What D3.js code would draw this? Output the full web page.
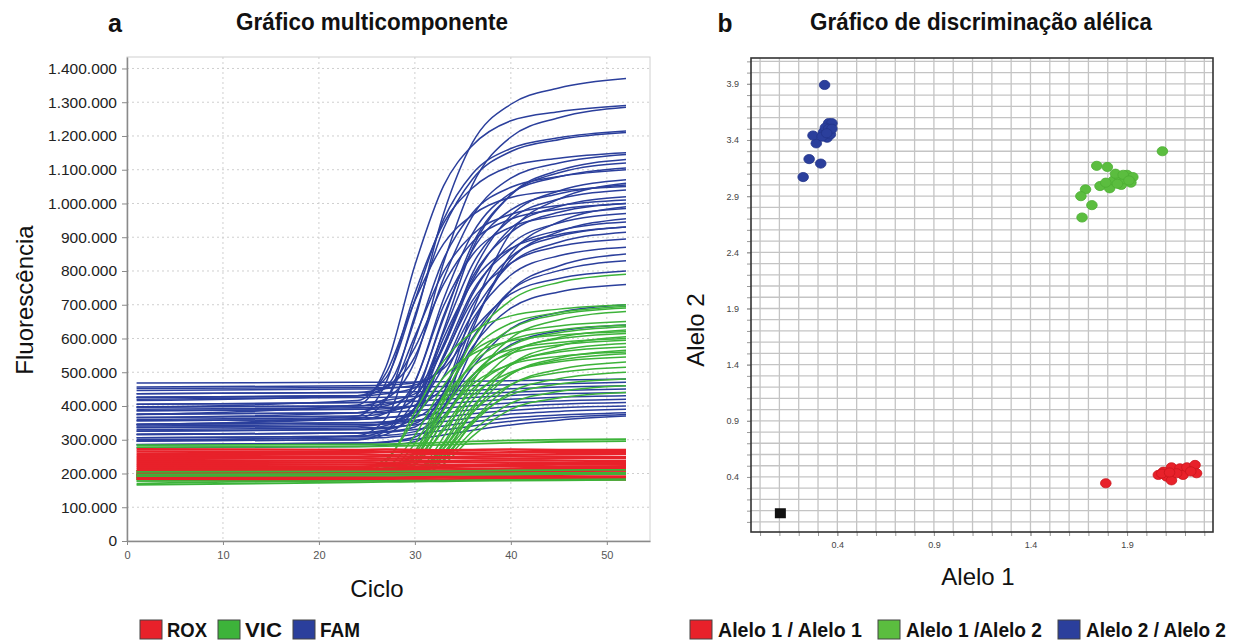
<!DOCTYPE html>
<html><head><meta charset="utf-8">
<script src="https://cdn.jsdelivr.net/npm/d3@7"></script>
<style>body{margin:0;background:#fff}</style>
</head><body>
<svg id="c" width="1234" height="643"></svg>
<script>
// ---------- Panel a data (fluorescence in thousands) ----------
const knotCycles = [1, 24, 27, 30, 33, 36, 40, 45, 52];

const famCurves = [
[425,430,458,658,971,1180,1294,1342,1370],
[375,403,517,817,1053,1172,1245,1272,1290],
[398,400,422,533,825,1055,1197,1254,1285],
[345,363,419,668,926,1072,1154,1189,1210],
[436,440,458,546,778,962,1075,1120,1145],
[325,330,342,394,626,866,1026,1098,1130],
[386,390,401,448,660,879,1025,1091,1120],
[356,360,379,472,718,911,1031,1079,1105],
[405,410,417,436,575,793,964,1037,1070],
[306,310,329,422,668,861,981,1029,1055],
[366,370,380,424,618,819,953,1013,1040],
[426,430,436,454,578,772,926,991,1020],
[336,340,350,393,584,782,914,974,1000],
[296,300,327,471,697,848,930,964,985],
[396,400,406,423,543,731,879,942,970],
[346,350,353,365,441,640,834,916,955],
[316,320,329,370,551,739,864,920,945],
[376,380,386,402,518,699,842,903,930],
[446,450,452,462,520,673,822,885,915],
[336,340,348,384,545,712,823,873,895],
[356,360,365,380,488,656,788,845,870],
[306,310,313,324,391,569,742,815,850],
[386,390,392,401,456,601,742,801,830],
[296,312,364,596,836,972,1048,1080,1100],
[416,430,484,714,953,1088,1163,1195,1215],
[326,330,334,348,440,680,914,1013,1060],
[366,380,421,607,799,908,968,994,1010],
[286,290,294,308,395,626,850,945,990],
[456,460,462,469,511,623,732,778,800],
[316,320,324,338,430,575,690,738,760],
[341,345,347,354,398,515,629,677,700],
[276,280,284,294,370,489,582,622,640],
[345,370,470,734,942,1046,1110,1134,1150],
[396,416,498,712,881,966,1018,1037,1050],
[296,300,316,395,602,766,867,908,930],
[426,430,453,573,761,886,954,983,1000],
[468,470,470,471,472,473,475,477,480],
[452,455,455,456,458,460,463,466,470],
[436,440,440,442,444,447,451,456,460],
[420,425,426,428,432,436,441,446,450],
[405,410,411,414,419,425,431,436,440],
[390,395,396,400,406,413,420,426,430],
[375,380,381,386,393,401,409,415,420],
[360,365,366,372,380,389,398,405,410],
[345,350,352,358,367,377,387,395,400],
[330,335,337,344,354,365,376,384,390],
[315,320,322,330,341,353,365,373,380],
[300,305,307,316,328,341,355,366,375],
[285,290,292,301,314,328,344,358,370]
];

// VIC wells that amplified
const vicCurves = [
[198,200,209,247,418,595,713,766,790],
[188,190,203,266,432,564,645,677,695],
[208,210,217,248,388,532,628,671,690],
[183,185,190,205,309,472,601,655,680],
[198,200,211,266,411,526,596,625,640],
[193,195,202,230,358,490,578,617,635],
[178,180,184,198,291,438,554,603,625],
[203,205,211,238,357,480,562,599,615],
[188,190,192,200,252,389,522,578,605],
[198,200,210,259,390,492,556,581,595],
[183,185,189,201,285,417,521,565,585],
[193,195,201,225,336,450,526,560,575],
[208,210,212,219,263,380,494,542,565],
[178,180,184,195,274,398,495,536,555],
[198,200,205,228,328,431,500,531,545],
[188,190,192,199,241,353,462,508,530],
[193,195,198,208,275,381,464,499,515],
[203,205,206,212,249,347,441,481,500],
[183,185,188,197,259,356,433,465,480],
[198,200,201,207,239,325,408,443,460],
[188,190,191,196,228,310,390,424,440],
[183,185,202,289,426,517,567,588,600],
[198,200,218,313,461,560,614,637,650],
[188,190,199,246,368,464,523,547,560],
[208,214,243,362,485,554,593,610,620],
[193,200,235,382,533,619,667,687,700]
];
// VIC wells without amplification
const vicFlatCurves = [
[284,286,287,289,292,295,298,300,302],
[278,280,281,283,285,288,291,294,296],
[166,174,175,176,177,178,179,180,181],
[170,178,178,179,179,180,181,182,183],
[192,194,194,195,196,196,197,198,198],
[197,199,199,200,200,201,201,202,202],
[205,206,206,207,207,208,209,210,211]
];

const roxCurves = [
[272,270,271,270,269,270,271,270,270],
[265,263,264,264,263,262,263,264,263],
[258,257,256,257,258,257,256,257,258],
[252,250,251,250,249,250,251,250,249],
[246,245,244,245,246,245,244,245,246],
[240,238,239,238,237,238,239,238,237],
[234,233,232,233,234,233,232,231,232],
[228,227,226,227,226,225,226,227,226],
[223,221,222,221,220,221,222,221,220],
[217,216,215,216,215,214,215,216,215],
[211,210,211,210,209,210,209,210,209],
[205,204,203,204,203,204,205,204,203],
[199,198,199,198,197,198,197,198,199],
[193,192,193,192,191,192,193,192,191],
[188,187,186,187,188,187,186,187,186],
[184,183,184,183,182,183,184,183,182]
];

const yTickValuesA = [0,100,200,300,400,500,600,700,800,900,1000,1100,1200,1300,1400];
const yTickLabelsA = ["0","100.000","200.000","300.000","400.000","500.000","600.000","700.000","800.000","900.000","1.000.000","1.100.000","1.200.000","1.300.000","1.400.000"];
const xTickValuesA = [0,10,20,30,40,50];
const legendNamesA = ["ROX","VIC","FAM"];
const colorsA = {ROX:"#e8212a", VIC:"#3db33a", FAM:"#2b3f9c"};

// ---------- Panel b data ----------
const hom2X = [0.334,0.223,0.254,0.314,0.291,0.274,0.329,0.355,0.372,0.347,0.364,0.338,0.355,0.321,0.372,0.345];
const hom2Y = [3.89,3.07,3.23,3.19,3.37,3.44,3.47,3.55,3.55,3.42,3.45,3.51,3.50,3.43,3.50,3.46];
const hetX = [2.083,1.743,1.798,1.685,1.661,1.718,1.667,1.76,1.81,1.83,1.86,1.90,1.93,1.92,1.87,1.84,1.79,1.89,1.85,1.88,1.91];
const hetY = [3.30,3.17,3.16,2.96,2.90,2.82,2.71,2.99,2.97,3.04,3.07,3.09,3.07,3.02,3.00,3.10,3.02,3.05,3.01,3.09,3.04];
const hom1X = [1.79,2.062,2.105,2.13,2.13,2.174,2.19,2.21,2.252,2.26,2.157,2.088,2.23,2.08,2.12];
const hom1Y = [0.344,0.418,0.403,0.37,0.486,0.477,0.418,0.486,0.507,0.433,0.433,0.447,0.45,0.43,0.44];
const ntcX = [0.105];
const ntcY = [0.077];
const tickValuesB = [0.4,0.9,1.4,1.9];
const yTickValuesB = [0.4,0.9,1.4,1.9,2.4,2.9,3.4,3.9];
const legendNamesB = ["Alelo 1 / Alelo 1","Alelo 1 /Alelo 2","Alelo 2 / Alelo 2"];
const colorsB = ["#e8212a","#5bbd3f","#2b3f9c"];

// ---------- Drawing ----------
const svg = d3.select("#c");
const sans = "'Liberation Sans',Arial,sans-serif";

// bold text horizontally condensed (scaleX) to a target width
function condensed(sel, x, y, size, width, txt, anchor){
  const g = sel.append("g");
  const t = g.append("text").attr("x",0).attr("y",0).attr("text-anchor",anchor||"start")
    .attr("font-family",sans).attr("font-weight","bold").attr("font-size",size)
    .attr("fill","#111").text(txt);
  const natural = t.node().getComputedTextLength();
  const sx = natural > 0 ? width / natural : 1;
  g.attr("transform",`translate(${x},${y}) scale(${sx},1)`);
  return g;
}

// Panel a
const xA = d3.scaleLinear().domain([0,54.5]).range([127,650]);
const yA = d3.scaleLinear().domain([0,1434]).range([541,57]);
const gA = svg.append("g");

gA.append("rect").attr("x",127).attr("y",57).attr("width",523).attr("height",484)
  .attr("fill","#fff").attr("stroke","#d0d0d0").attr("stroke-width",1);

gA.selectAll(".hg").data(yTickValuesA.slice(1)).join("line")
  .attr("x1",127).attr("x2",650).attr("y1",d=>yA(d)).attr("y2",d=>yA(d))
  .attr("stroke","#cfcfcf").attr("stroke-dasharray","2,3");
gA.selectAll(".vg").data(xTickValuesA.slice(1)).join("line")
  .attr("y1",57).attr("y2",541).attr("x1",d=>xA(d)).attr("x2",d=>xA(d))
  .attr("stroke","#cfcfcf").attr("stroke-dasharray","2,3");

const lineA = d3.line().x((d,i)=>xA(knotCycles[i])).y(d=>yA(d)).curve(d3.curveMonotoneX);
const groupsA = [
  {name:"FAM", curves:famCurves, w:1.5},
  {name:"VIC", curves:vicCurves, w:1.5},
  {name:"ROX", curves:roxCurves, w:2.4},
  {name:"VIC", curves:vicFlatCurves, w:1.8}
];
groupsA.forEach(g=>{
  gA.append("g").selectAll("path").data(g.curves).join("path")
    .attr("d",lineA).attr("fill","none").attr("stroke",colorsA[g.name])
    .attr("stroke-width",g.w);
});

const axL = gA.append("g").attr("transform","translate(127,0)")
  .call(d3.axisLeft(yA).tickValues(yTickValuesA).tickFormat((d,i)=>yTickLabelsA[i]).tickSize(5).tickSizeOuter(0).tickPadding(5));
axL.selectAll("text").attr("font-family",sans).attr("font-size",15.5).attr("fill","#222");
axL.select(".domain").attr("stroke","#8a8a8a").attr("stroke-width",1.5);
axL.selectAll(".tick line").attr("stroke","#8a8a8a");

const axB = gA.append("g").attr("transform","translate(0,541)")
  .call(d3.axisBottom(xA).tickValues(xTickValuesA).tickSize(4).tickSizeOuter(0).tickPadding(6));
axB.selectAll("text").attr("font-family",sans).attr("font-size",11).attr("fill","#555");
axB.select(".domain").attr("stroke","#8a8a8a").attr("stroke-width",1.5);
axB.selectAll(".tick line").attr("stroke","#8a8a8a");

condensed(svg,115,32,26,14,"a","middle");
condensed(svg,372,30,24,272,"Gráfico multicomponente","middle");
svg.append("text").attr("transform","translate(33,300) rotate(-90)").attr("text-anchor","middle")
  .attr("font-family",sans).attr("font-size",24).attr("fill","#111").text("Fluorescência");
svg.append("text").attr("x",377).attr("y",597).attr("text-anchor","middle")
  .attr("font-family",sans).attr("font-size",24).attr("fill","#111").text("Ciclo");

const legA = svg.append("g");
const legAX = [140,218,293];
const legAW = [40,37,40];
legendNamesA.forEach((n,i)=>{
  legA.append("rect").attr("x",legAX[i]).attr("y",620).attr("width",22).attr("height",19)
    .attr("fill",colorsA[n]).attr("stroke","#444").attr("stroke-width",1);
  condensed(legA,legAX[i]+27,637,21,legAW[i],n);
});

// Panel b
const xB = d3.scaleLinear().domain([-0.047,2.345]).range([751,1213]);
const yB = d3.scaleLinear().domain([-0.09,4.13]).range([532,58]);
const gB = svg.append("g");
const gridX = d3.range(0,24).map(i=>i/10);
const gridY = d3.range(0,42).map(i=>i/10);

gB.selectAll(".gx").data(gridX).join("line")
  .attr("x1",d=>xB(d)).attr("x2",d=>xB(d)).attr("y1",58).attr("y2",532)
  .attr("stroke","#c4c4c4").attr("stroke-width",1.3);
gB.selectAll(".gy").data(gridY).join("line")
  .attr("y1",d=>yB(d)).attr("y2",d=>yB(d)).attr("x1",751).attr("x2",1213)
  .attr("stroke","#c4c4c4").attr("stroke-width",1.3);

const bxMinor = gB.append("g").attr("transform","translate(0,532)")
  .call(d3.axisBottom(xB).tickValues(gridX).tickFormat("").tickSize(4).tickSizeOuter(0));
const bxMajor = gB.append("g").attr("transform","translate(0,532)")
  .call(d3.axisBottom(xB).tickValues(tickValuesB).tickFormat(d3.format(".1f")).tickSize(4).tickSizeOuter(0).tickPadding(6));
const byMinor = gB.append("g").attr("transform","translate(751,0)")
  .call(d3.axisLeft(yB).tickValues(gridY).tickFormat("").tickSize(4).tickSizeOuter(0));
const byMajor = gB.append("g").attr("transform","translate(751,0)")
  .call(d3.axisLeft(yB).tickValues(yTickValuesB).tickFormat(d3.format(".1f")).tickSize(4).tickSizeOuter(0).tickPadding(8));
[bxMinor,bxMajor,byMinor,byMajor].forEach(a=>{
  a.select(".domain").attr("stroke","none");
  a.selectAll(".tick line").attr("stroke","#999");
  a.selectAll("text").attr("font-family",sans).attr("font-size",9).attr("fill","#444");
});
gB.append("rect").attr("x",751).attr("y",58).attr("width",462).attr("height",474)
  .attr("fill","none").attr("stroke","#333").attr("stroke-width",1.6);

const ptGroups = [
  {x:hom1X, y:hom1Y, c:colorsB[0], s:"#c9161d"},
  {x:hetX, y:hetY, c:colorsB[1], s:"#4cae33"},
  {x:hom2X, y:hom2Y, c:colorsB[2], s:"#23358a"}
];
ptGroups.forEach(g=>{
  gB.append("g").selectAll("ellipse").data(g.x).join("ellipse")
    .attr("cx",d=>xB(d)).attr("cy",(d,i)=>yB(g.y[i])).attr("rx",5.3).attr("ry",4.6)
    .attr("fill",g.c).attr("stroke",g.s).attr("stroke-width",0.8);
});
gB.append("g").selectAll("rect").data(ntcX).join("rect")
  .attr("x",d=>xB(d)-5.5).attr("y",(d,i)=>yB(ntcY[i])-5).attr("width",11).attr("height",10)
  .attr("fill","#111");

condensed(svg,725,32,26,15,"b","middle");
condensed(svg,981,30,24,342,"Gráfico de discriminação alélica","middle");
svg.append("text").attr("transform","translate(704,330) rotate(-90)").attr("text-anchor","middle")
  .attr("font-family",sans).attr("font-size",24).attr("fill","#111").text("Alelo 2");
svg.append("text").attr("x",978).attr("y",585).attr("text-anchor","middle")
  .attr("font-family",sans).attr("font-size",24).attr("fill","#111").text("Alelo 1");

const legB = svg.append("g");
const legBX = [690,878,1058];
const legBW = [144,136,140];
legendNamesB.forEach((n,i)=>{
  legB.append("rect").attr("x",legBX[i]).attr("y",620).attr("width",22).attr("height",19)
    .attr("fill",colorsB[i]).attr("stroke","#444").attr("stroke-width",1);
  condensed(legB,legBX[i]+28,637,21,legBW[i],n);
});
</script>
</body></html>
